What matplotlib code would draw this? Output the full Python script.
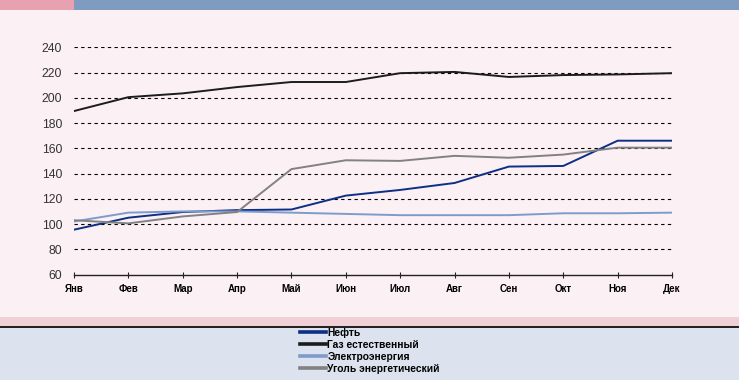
import matplotlib.pyplot as plt
from matplotlib.patches import Rectangle
from matplotlib.lines import Line2D

plt.rcParams['font.family'] = ['Liberation Sans Narrow', 'Liberation Sans', 'DejaVu Sans']

# data
months = ['Янв', 'Фев', 'Мар', 'Апр', 'Май', 'Июн', 'Июл', 'Авг', 'Сен', 'Окт', 'Ноя', 'Дек']
oil = [95.5, 105, 109.5, 111, 111.5, 122.5, 127, 132.5, 145.5, 146, 166, 166]
gas = [189.5, 200.5, 203.5, 208.5, 212.5, 212.5, 219.5, 220.5, 216.5, 218, 218.5, 219.5]
power = [102, 109, 110, 110, 109, 108, 107, 107, 107, 108.5, 108.5, 109]
coal = [103, 100.5, 106, 109.5, 143.5, 150.5, 150, 154, 152.5, 155, 160.5, 160.5]

names = ['Нефть', 'Газ естественный', 'Электроэнергия', 'Уголь энергетический']
colors = ['#0d2f85', '#1c1c1c', '#7d9ccb', '#828282']
series = [oil, gas, power, coal]

W, H = 739, 380
fig = plt.figure(figsize=(W / 100, H / 100), dpi=100)
fig.patch.set_facecolor('#fbf0f3')

# background bands (pixel coords of the picture)
def band(x0, y0, x1, y1, c):
    fig.patches.append(Rectangle((x0 / W, 1 - y1 / H), (x1 - x0) / W, (y1 - y0) / H,
                                 transform=fig.transFigure, facecolor=c, edgecolor='none', zorder=0))

band(0, 0, 74, 10, '#e8a1af')
band(74, 0, W, 10, '#809bc0')
band(0, 317, W, 326, '#f1cfd6')
band(0, 326, W, 327.5, '#222222')
band(0, 327.5, W, H, '#dde3ee')

ax = fig.add_axes([74 / W, 1 - 274.5 / H, (672 - 74) / W, (274.5 - 47.3) / H])
ax.set_facecolor('none')

x = list(range(len(months)))
for vals, c in zip(series, colors):
    ax.plot(x, vals, color=c, lw=1.4, zorder=3)

ax.set_xlim(0, 11)
ax.set_ylim(60, 240)
ax.set_yticks(range(60, 241, 20))
ax.set_xticks(x)
ax.set_xticklabels(months, fontsize=7, fontweight='bold')
ax.tick_params(axis='x', direction='inout', length=5, width=0.8, color='#222222', pad=4.5)
ax.tick_params(axis='y', length=0, labelsize=8.7, labelcolor='#333333', pad=8.5)

for v in range(80, 241, 20):
    ax.axhline(v, color='black', lw=0.8, ls=(0, (3, 3)), zorder=1)

for s in ['top', 'right', 'left']:
    ax.spines[s].set_visible(False)
ax.spines['bottom'].set_color('#222222')
ax.spines['bottom'].set_linewidth(1)

handles = [Line2D([0], [0], color=c, lw=2.6) for c in colors]
fig.legend(handles, names, loc='center', bbox_to_anchor=(370 / W, 1 - 351 / H),
           frameon=False, handlelength=2.5, handletextpad=0.15,
           labelspacing=0.2, prop={'weight': 'bold', 'size': 7.4})

fig.savefig('out.png', dpi=100, facecolor=fig.get_facecolor())
